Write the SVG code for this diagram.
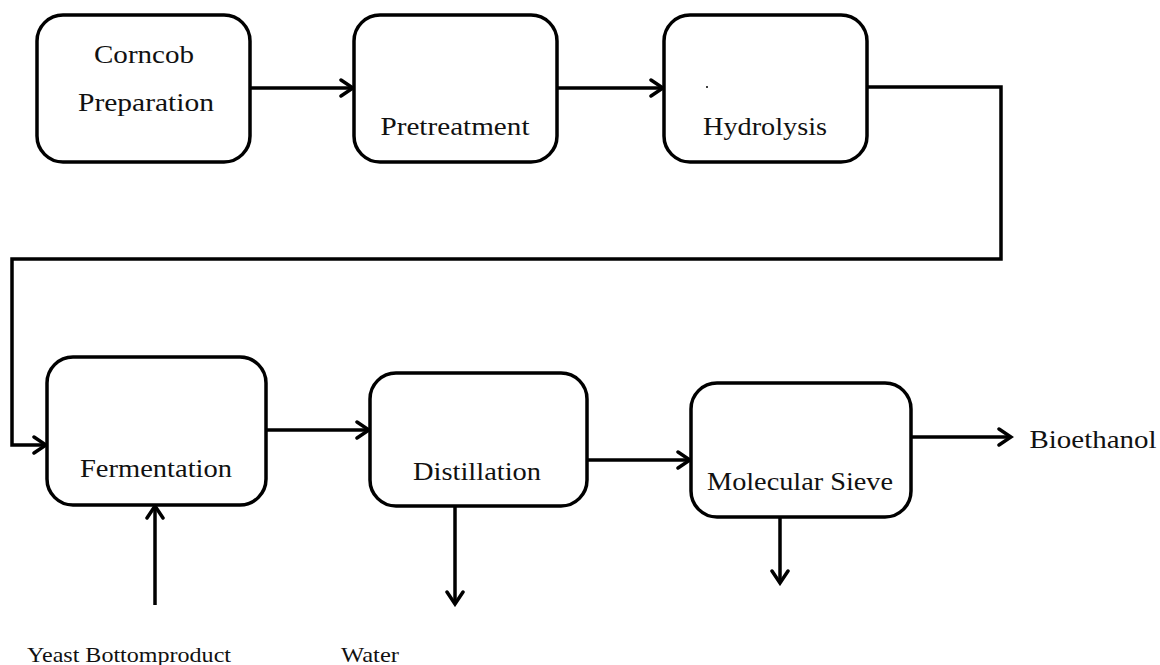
<svg xmlns="http://www.w3.org/2000/svg" width="1160" height="665" viewBox="0 0 1160 665">
<style>
.box{fill:#fff;stroke:#000;stroke-width:3.5}
.t{font-family:"Liberation Serif","Times New Roman",serif;font-size:25px;fill:#111;text-anchor:middle}
.s{font-family:"Liberation Serif","Times New Roman",serif;font-size:21px;fill:#111}
.c{fill:none;stroke:#000;stroke-width:3.5}
</style>
<defs>
<marker id="ah" markerUnits="userSpaceOnUse" markerWidth="20" markerHeight="24" viewBox="0 0 20 24" refX="17" refY="12" orient="auto">
<path d="M5,4 L17,12 L5,20" fill="none" stroke="#000" stroke-width="3.5" stroke-linecap="round" stroke-linejoin="miter"/>
</marker>
</defs>
<rect width="1160" height="665" fill="#fff"/>
<g id="connectors">
<line class="c" x1="250" y1="88" x2="353" y2="88" marker-end="url(#ah)"/>
<line class="c" x1="557" y1="88" x2="663" y2="88" marker-end="url(#ah)"/>
<polyline class="c" points="867,87 1001,87 1001,259 12,259 12,445 46,445" marker-end="url(#ah)"/>
<line class="c" x1="267" y1="430" x2="369" y2="430" marker-end="url(#ah)"/>
<line class="c" x1="587" y1="460" x2="690" y2="460" marker-end="url(#ah)"/>
<line class="c" x1="911" y1="437" x2="1011" y2="437" marker-end="url(#ah)"/>
<line class="c" x1="155" y1="605" x2="155" y2="506" marker-end="url(#ah)"/>
<line class="c" x1="455" y1="506" x2="455" y2="604" marker-end="url(#ah)"/>
<line class="c" x1="780" y1="517" x2="780" y2="583" marker-end="url(#ah)"/>
</g>
<g id="corncob">
<rect class="box" x="37" y="15" width="213" height="147" rx="26"/>
<text class="t" x="144" y="63" textLength="100" lengthAdjust="spacingAndGlyphs">Corncob</text>
<text class="t" x="146" y="111" textLength="136" lengthAdjust="spacingAndGlyphs">Preparation</text>
</g>
<g id="pretreatment">
<rect class="box" x="354" y="15" width="203" height="147" rx="26"/>
<text class="t" x="455" y="135" textLength="149" lengthAdjust="spacingAndGlyphs">Pretreatment</text>
</g>
<g id="hydrolysis">
<rect class="box" x="664" y="15" width="203" height="147" rx="26"/>
<circle cx="707" cy="87" r="1" fill="#000"/>
<text class="t" x="765" y="135" textLength="124" lengthAdjust="spacingAndGlyphs">Hydrolysis</text>
</g>
<g id="fermentation">
<rect class="box" x="47" y="357" width="219" height="148" rx="26"/>
<text class="t" x="156" y="477" textLength="152" lengthAdjust="spacingAndGlyphs">Fermentation</text>
</g>
<g id="distillation">
<rect class="box" x="370" y="373" width="217" height="133" rx="26"/>
<text class="t" x="477" y="480" textLength="128" lengthAdjust="spacingAndGlyphs">Distillation</text>
</g>
<g id="sieve">
<rect class="box" x="691" y="383" width="220" height="134" rx="26"/>
<text class="t" x="800" y="490" textLength="186" lengthAdjust="spacingAndGlyphs">Molecular Sieve</text>
</g>
<g id="labels">
<text class="t" x="1093" y="448" textLength="127" lengthAdjust="spacingAndGlyphs">Bioethanol</text>
<text class="s" x="27" y="662" textLength="204" lengthAdjust="spacingAndGlyphs">Yeast Bottomproduct</text>
<text class="s" x="341" y="662" textLength="58" lengthAdjust="spacingAndGlyphs">Water</text>
</g>
</svg>
